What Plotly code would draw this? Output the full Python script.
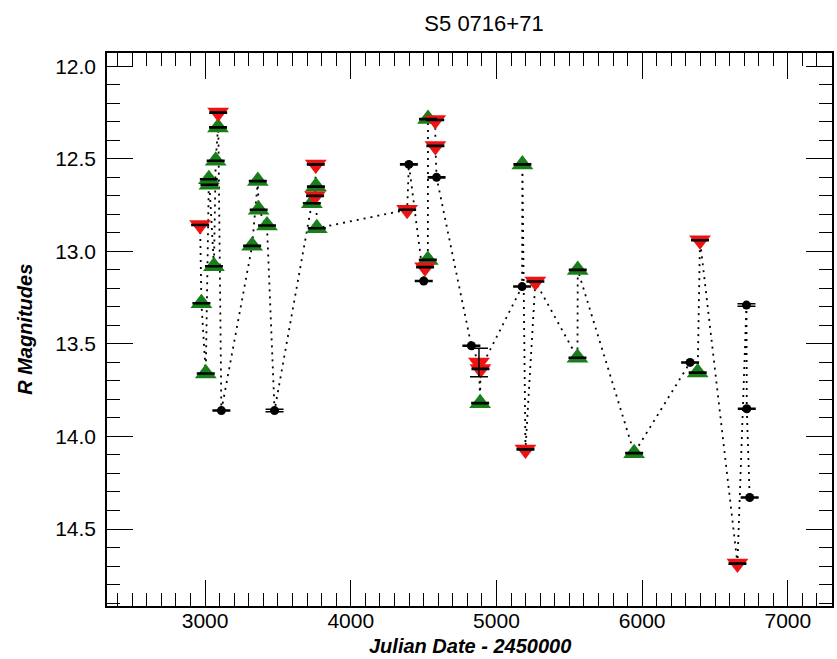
import plotly.graph_objects as go

# R-band light curve of S5 0716+71 (JD - 2450000, magnitude, error)
black_jd = [3112, 3477, 4399, 4501, 4589, 4828, 5176, 6329, 6716, 6718, 6738]
black_mag = [13.86, 13.86, 12.53, 13.16, 12.60, 13.51, 13.19, 13.60, 13.29, 13.85, 14.33]
black_err = [0.003, 0.007, 0.003, 0.003, 0.003, 0.003, 0.003, 0.003, 0.007, 0.003, 0.003]

green_jd = [2975, 3005, 3026, 3030, 3061, 3073, 3089, 3323, 3362, 3368, 3425,
            3733, 3761, 3767, 4529, 4530, 4888, 5178, 5556, 5558, 5945, 6381]
green_mag = [13.28, 13.66, 12.61, 12.64, 13.08, 12.51, 12.33, 12.97, 12.62, 12.775, 12.86,
             12.74, 12.65, 12.875, 13.046, 12.285, 13.82, 12.53, 13.575, 13.10, 14.09, 13.655]
green_err = [0.003] * len(green_jd)

red_jd = [2966, 3090, 3755, 3760, 4387, 4510, 4580, 4581, 4880, 4890, 5199, 5267, 6397, 6654]
red_mag = [12.857, 12.25, 12.70, 12.53, 12.775, 13.085, 12.29, 12.43, 13.60, 13.635,
           14.07, 13.163, 12.94, 14.687]
red_err = [0.003, 0.003, 0.003, 0.003, 0.003, 0.003, 0.003, 0.003, 0.077, 0.003,
           0.003, 0.003, 0.003, 0.003]

GREEN = "#17801a"
RED = "#ee1313"
FONT = "Liberation Sans, Arial, sans-serif"

# all observations in time order for the connecting dotted line
all_pts = sorted(zip(black_jd + green_jd + red_jd, black_mag + green_mag + red_mag))
line_jd = [p[0] for p in all_pts]
line_mag = [p[1] for p in all_pts]

fig = go.Figure()

fig.add_trace(go.Scatter(
    x=line_jd, y=line_mag, mode="lines",
    line=dict(color="black", width=1.8, dash="2px,5px"),
    hoverinfo="skip", showlegend=False))

fig.add_trace(go.Scatter(
    x=black_jd, y=black_mag, mode="markers",
    marker=dict(symbol="circle", size=9, color="black"),
    showlegend=False))
fig.add_trace(go.Scatter(
    x=green_jd, y=green_mag, mode="markers",
    marker=dict(symbol="triangle-up", size=19, color=GREEN),
    showlegend=False))
fig.add_trace(go.Scatter(
    x=red_jd, y=red_mag, mode="markers",
    marker=dict(symbol="triangle-down", size=19, color=RED),
    showlegend=False))

# error bars on top of the symbols
for xs, ys, es in [(black_jd, black_mag, black_err),
                   (green_jd, green_mag, green_err),
                   (red_jd, red_mag, red_err)]:
    fig.add_trace(go.Scatter(
        x=xs, y=ys, mode="markers",
        marker=dict(size=1, color="rgba(0,0,0,0)"),
        error_y=dict(type="data", array=es, visible=True,
                     color="black", thickness=1.5, width=9),
        hoverinfo="skip", showlegend=False))

axis_common = dict(
    showline=True, linecolor="black", linewidth=1.5,
    mirror="allticks", ticks="inside", tickcolor="black", tickwidth=1.3,
    ticklen=26, showgrid=False, zeroline=False,
    tickfont=dict(family=FONT, size=21, color="black"),
)

fig.update_xaxes(
    range=[2327, 7303], dtick=1000, tick0=0,
    minor=dict(dtick=100, ticklen=13, ticks="inside", tickcolor="black", tickwidth=1.2),
    ticklabelstandoff=-5,
    **axis_common)
fig.update_yaxes(
    range=[14.916, 11.928], dtick=0.5, tick0=12, tickformat=".1f",
    minor=dict(dtick=0.1, ticklen=13, ticks="inside", tickcolor="black", tickwidth=1.2),
    ticklabelstandoff=5,
    **axis_common)

fig.update_layout(
    width=837, height=659,
    margin=dict(l=107, r=3, t=53, b=53),
    plot_bgcolor="white", paper_bgcolor="white",
    title=dict(text="S5 0716+71", x=0.52, xref="paper", xanchor="center",
               y=1 - 23 / 659, yref="container", yanchor="middle",
               font=dict(family=FONT, size=22, color="black")),
    annotations=[
        dict(text="<b><i>Julian Date - 2450000</i></b>", xref="paper", yref="paper",
             x=0.5, y=-0.073, xanchor="center", yanchor="middle", showarrow=False,
             font=dict(family=FONT, size=20, color="black")),
        dict(text="<b><i>R Magnitudes</i></b>", xref="paper", yref="paper",
             x=-0.114, y=0.5, xanchor="center", yanchor="middle", showarrow=False,
             textangle=-90,
             font=dict(family=FONT, size=20, color="black")),
    ],
)

fig.write_html("out.html")
